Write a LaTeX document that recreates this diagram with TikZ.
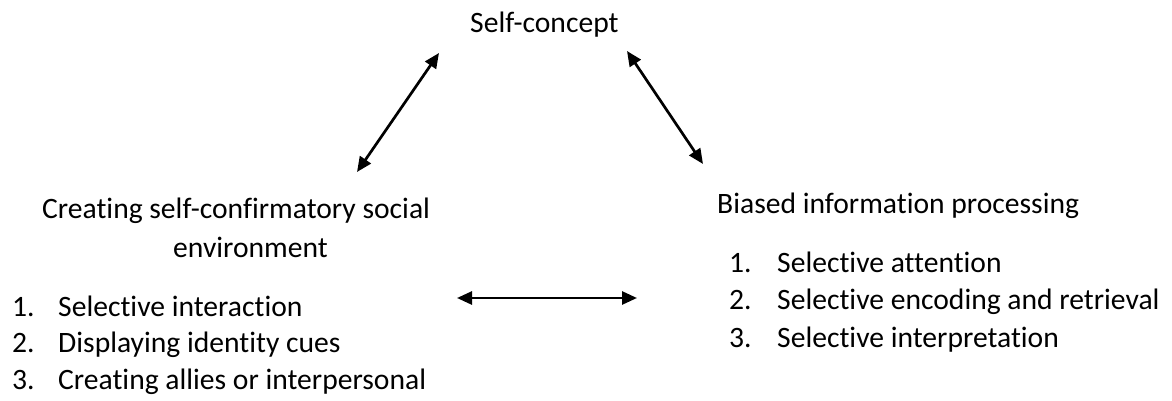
\documentclass[tikz,border=0pt]{standalone}
\usepackage{fontspec}
\setmainfont{Carlito}[Ligatures=CommonOff]
\usetikzlibrary{arrows.meta}
\begin{document}
\begin{tikzpicture}[x=1pt,y=-1pt,
  label text/.style={inner sep=0pt,anchor=base west,font=\fontsize{29.6}{37}\selectfont},
  link/.style={line width=2.7pt,{Triangle[length=15pt,width=13pt]}-{Triangle[length=15pt,width=13pt]}}]
\useasboundingbox (0,0) rectangle (1172,401);

% headings
\node[label text] (self) at (470,33) {Self-concept};
\node[label text] (env1) at (42,218) {Creating self-confirmatory social};
\node[label text] (env2) at (173,257) {environment};
\node[label text] (bias) at (717,213) {Biased information processing};

% left list
\node[label text] (l1n) at (12,316) {1.};
\node[label text] (l1)  at (58,316) {Selective interaction};
\node[label text] (l2n) at (12,352.5) {2.};
\node[label text] (l2)  at (58,352.5) {Displaying identity cues};
\node[label text] (l3n) at (12,389) {3.};
\node[label text] (l3)  at (58,389) {Creating allies or interpersonal};

% right list
\node[label text] (r1n) at (729,272) {1.};
\node[label text] (r1)  at (777,272) {Selective attention};
\node[label text] (r2n) at (729,309.5) {2.};
\node[label text] (r2)  at (777,309.5) {Selective encoding and retrieval};
\node[label text] (r3n) at (729,347) {3.};
\node[label text] (r3)  at (777,347) {Selective interpretation};

% arrow ends
\coordinate (sL) at (439,53);
\coordinate (eL) at (357,172);
\coordinate (sR) at (627,51);
\coordinate (bR) at (703,164);
\coordinate (mL) at (457,298);
\coordinate (mR) at (637,298);

\draw[link] (eL) -- (sL);
\draw[link] (sR) -- (bR);
\draw[link] (mL) -- (mR);
\end{tikzpicture}
\end{document}
